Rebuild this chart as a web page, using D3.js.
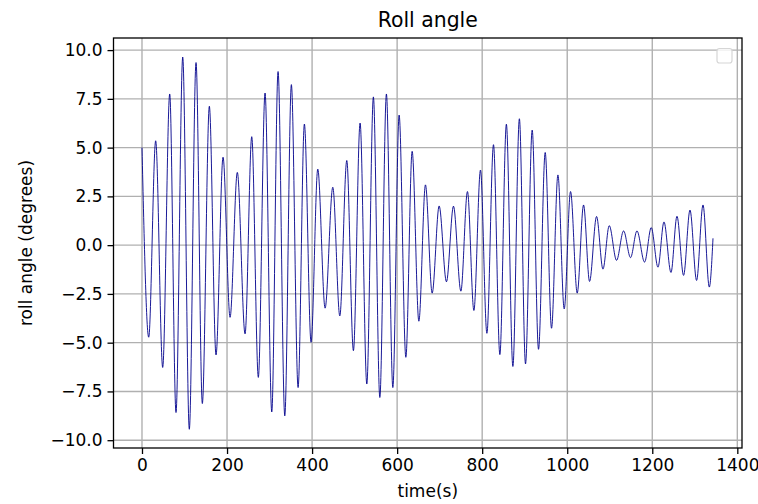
<!DOCTYPE html>
<html>
<head>
<meta charset="utf-8">
<script src="https://cdn.jsdelivr.net/npm/d3@7"></script>
<style>
  body { margin: 0; background: white; }
  text { font-family: "DejaVu Sans", sans-serif; fill: #000; }
</style>
</head>
<body>
<div class="display"></div>
<script>
// turning points of the roll signal (time in s, angle in degrees)
const time = [
    0, 15.8, 32.2, 48.7, 65.2, 80, 95.8, 111.3, 127.1, 141.9,
    158.4, 174.1, 190.6, 207.1, 224.2, 242.4, 258.1, 273.6, 289.4, 305.2,
    320, 335.8, 351.3, 367.1, 381.9, 397.6, 413.4, 430.6, 448.7, 465.2,
    481.6, 497.2, 512.9, 528.7, 544.2, 559.3, 574.8, 589.9, 604.7, 620.5,
    635.3, 651.1, 666.6, 682.4, 698.8, 716, 732.5, 749.9, 765.4, 780.5,
    796, 811.1, 826.6, 841.6, 856.9, 872.2, 887.5, 901.9, 917.6, 932.5,
    948.2, 963.1, 978.1, 992.9, 1007.8, 1023.5, 1038.4, 1052.5, 1069, 1084,
    1098.8, 1116, 1132.5, 1148.9, 1164, 1181.9, 1197.6, 1213.4, 1227.5, 1244,
    1258.1, 1273.6, 1288.7, 1304.2, 1319.3, 1334.1, 1342.8
];
const rollAngle = [
    5.0, -4.72, 5.35, -6.27, 7.75, -8.58, 9.64, -9.44, 9.36, -8.12,
    7.12, -5.63, 4.51, -3.7, 3.73, -4.55, 5.56, -6.78, 7.8, -8.55,
    8.9, -8.75, 8.23, -7.3, 6.21, -4.98, 3.9, -3.23, 2.97, -3.63,
    4.34, -5.41, 6.26, -7.12, 7.6, -7.81, 7.75, -7.3, 6.67, -5.75,
    4.81, -3.9, 3.09, -2.46, 2.01, -1.88, 2.0, -2.36, 2.75, -3.35,
    3.85, -4.52, 5.15, -5.61, 6.2, -6.22, 6.48, -6.09, 5.9, -5.34,
    4.75, -4.26, 3.6, -3.27, 2.75, -2.46, 2.06, -1.86, 1.47, -1.23,
    1.0, -0.78, 0.73, -0.64, 0.73, -0.87, 0.9, -1.13, 1.19, -1.4,
    1.48, -1.55, 1.8, -1.81, 2.06, -2.15, 0.35
];
const xTicks = [0, 200, 400, 600, 800, 1000, 1200, 1400];
const yTicks = [-10, -7.5, -5, -2.5, 0, 2.5, 5, 7.5, 10];

const width = 758;
const height = 504;
const plot = { left: 113.5, right: 742, top: 38, bottom: 448 };

const svg = d3.select('.display')
    .append('svg')
    .attr('width', width)
    .attr('height', height);

const xScale = d3.scaleLinear()
    .domain([-67, 1411])
    .range([plot.left, plot.right]);

const yScale = d3.scaleLinear()
    .domain([-10.4, 10.62])
    .range([plot.bottom, plot.top]);

// grid
svg.append('g')
    .selectAll('line')
    .data(xTicks)
    .enter()
    .append('line')
    .attr('x1', d => xScale(d))
    .attr('x2', d => xScale(d))
    .attr('y1', plot.top)
    .attr('y2', plot.bottom)
    .attr('stroke', '#b0b0b0')
    .attr('stroke-width', 1.4);

svg.append('g')
    .selectAll('line')
    .data(yTicks)
    .enter()
    .append('line')
    .attr('x1', plot.left)
    .attr('x2', plot.right)
    .attr('y1', d => yScale(d))
    .attr('y2', d => yScale(d))
    .attr('stroke', '#b0b0b0')
    .attr('stroke-width', 1.4);

// signal
const line = d3.line()
    .x((d, i) => xScale(time[i]))
    .y(d => yScale(d))
    .curve(d3.curveMonotoneX);

svg.append('path')
    .datum(rollAngle)
    .attr('d', line)
    .attr('fill', 'none')
    .attr('stroke', '#00008b')
    .attr('stroke-width', 0.9);

// axes
const xAxis = d3.axisBottom(xScale)
    .tickValues(xTicks)
    .tickSize(6)
    .tickPadding(5)
    .tickFormat(d3.format('d'));

const yAxis = d3.axisLeft(yScale)
    .tickValues(yTicks)
    .tickSize(6)
    .tickPadding(5)
    .tickFormat(d3.format('.1f'));

const gx = svg.append('g')
    .attr('transform', `translate(0, ${plot.bottom})`)
    .call(xAxis);

const gy = svg.append('g')
    .attr('transform', `translate(${plot.left}, 0)`)
    .call(yAxis);

[gx, gy].forEach(g => {
    g.select('.domain').remove();
    g.selectAll('.tick line').attr('stroke', '#000').attr('stroke-width', 1.3);
    g.selectAll('.tick text')
        .attr('font-size', 17)
        .attr('font-family', '"DejaVu Sans", sans-serif')
        .attr('fill', '#000');
});

// frame
svg.append('rect')
    .attr('x', plot.left)
    .attr('y', plot.top)
    .attr('width', plot.right - plot.left)
    .attr('height', plot.bottom - plot.top)
    .attr('fill', 'none')
    .attr('stroke', '#000')
    .attr('stroke-width', 1.3);

// empty legend box
svg.append('rect')
    .attr('x', 717)
    .attr('y', 48.5)
    .attr('width', 15)
    .attr('height', 14.5)
    .attr('rx', 2.5)
    .attr('fill', 'white')
    .attr('fill-opacity', 0.8)
    .attr('stroke', '#d6d6d6')
    .attr('stroke-width', 1.2);

// titles
svg.append('text')
    .attr('x', (plot.left + plot.right) / 2)
    .attr('y', 27)
    .attr('text-anchor', 'middle')
    .attr('font-size', 20.4)
    .text('Roll angle');

svg.append('text')
    .attr('x', (plot.left + plot.right) / 2)
    .attr('y', 497)
    .attr('text-anchor', 'middle')
    .attr('font-size', 17)
    .text('time(s)');

svg.append('text')
    .attr('transform', `translate(32, ${(plot.top + plot.bottom) / 2}) rotate(-90)`)
    .attr('text-anchor', 'middle')
    .attr('font-size', 17)
    .text('roll angle (degrees)');
</script>
</body>
</html>
